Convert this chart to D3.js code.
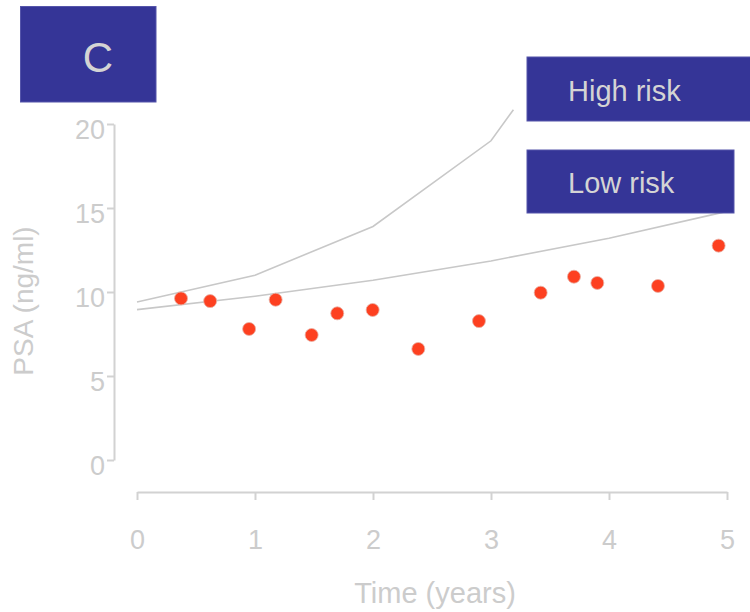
<!DOCTYPE html>
<html>
<head>
<meta charset="utf-8">
<script src="https://cdn.jsdelivr.net/npm/d3@7"></script>
<style>
  body { margin: 0; background: #fff; }
  text { font-family: "Liberation Sans", Arial, sans-serif; }
</style>
</head>
<body>
<div id="chart"></div>
<script>
// observed PSA values
const times = [0.373, 0.62, 0.95, 1.175, 1.48, 1.697, 1.997, 2.384, 2.898, 3.421, 3.703, 3.901, 4.415, 4.929];
const psa   = [9.62, 9.46, 7.80, 9.54, 7.44, 8.73, 8.93, 6.61, 8.27, 9.96, 10.91, 10.54, 10.36, 12.76];

// reference curves (time, psa)
const highRisk = [[0, 9.4], [1, 11.0], [2, 13.9], [3, 19.0], [3.19, 20.85]];
const lowRisk  = [[0, 8.95], [1, 9.75], [2, 10.7], [3, 11.85], [4, 13.2], [5, 14.8]];

const xTicks = [0, 1, 2, 3, 4, 5];
const yTicks = [0, 5, 10, 15, 20];

const width = 750, height = 612;
const grey = "#cccccc", boxFill = "#353597";

var svg = d3.select("#chart").append("svg")
    .attr("width", width)
    .attr("height", height);

var x = d3.scaleLinear().domain([0, 5]).range([137, 727]);
var y = d3.scaleLinear().domain([0, 20]).range([460, 124]);

// y axis
var yAxis = svg.append("g")
    .attr("transform", "translate(114,0)")
    .call(d3.axisLeft(y).tickValues(yTicks).tickFormat(d3.format("d")).tickSize(7).tickSizeOuter(0).tickPadding(2));
yAxis.selectAll("text").attr("dy", "0.55em").style("font-size", "27px").attr("fill", grey);

// x axis
var xAxis = svg.append("g")
    .attr("transform", "translate(0,492)")
    .call(d3.axisBottom(x).tickValues(xTicks).tickFormat(d3.format("d")).tickSize(8).tickSizeOuter(0).tickPadding(30));
xAxis.selectAll("text").style("font-size", "27px").attr("fill", grey);

svg.selectAll(".domain, .tick line")
    .attr("stroke", "#d2d2d2")
    .attr("stroke-width", 2);

// axis titles
svg.append("text")
    .attr("transform", "translate(33,301) rotate(-90)")
    .attr("text-anchor", "middle")
    .style("font-size", "28px")
    .attr("fill", grey)
    .text("PSA (ng/ml)");

svg.append("text")
    .attr("x", 435)
    .attr("y", 603)
    .attr("text-anchor", "middle")
    .style("font-size", "29px")
    .attr("fill", grey)
    .text("Time (years)");

// curves
var line = d3.line()
    .x(function (d) { return x(d[0]); })
    .y(function (d) { return y(d[1]); });

[highRisk, lowRisk].forEach(function (c) {
    svg.append("path")
        .datum(c)
        .attr("d", line)
        .attr("fill", "none")
        .attr("stroke", "#c8c8c8")
        .attr("stroke-width", 1.6);
});

// points
svg.append("g")
    .selectAll("circle")
    .data(times)
    .enter()
    .append("circle")
        .attr("cx", function (d) { return x(d); })
        .attr("cy", function (d, i) { return y(psa[i]); })
        .attr("r", 6.5)
        .attr("fill", "#fd4020")
        .attr("stroke", "#e9b0a4")
        .attr("stroke-width", 0.8);

// label boxes
function box(x0, y0, w, h, label, tx, ty, size, anchor) {
    svg.append("rect")
        .attr("x", x0).attr("y", y0)
        .attr("width", w).attr("height", h)
        .attr("fill", boxFill)
        .attr("stroke", "#5555aa")
        .attr("stroke-width", 1);
    svg.append("text")
        .attr("x", tx).attr("y", ty)
        .attr("text-anchor", anchor)
        .style("font-size", size + "px")
        .attr("fill", "#d4d4d4")
        .text(label);
}

box(20.5, 6.5, 135.5, 95.5, "C", 98, 72, 42, "middle");
box(527, 57, 230, 64, "High risk", 568, 101, 29, "start");
box(527, 150, 207, 63, "Low risk", 568, 193, 29, "start");
</script>
</body>
</html>
